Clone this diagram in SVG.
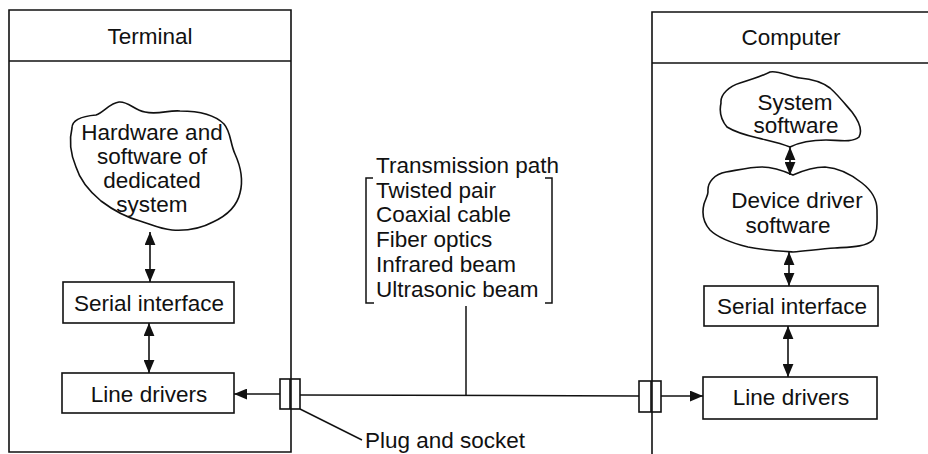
<svg xmlns="http://www.w3.org/2000/svg" width="928" height="454" viewBox="0 0 928 454">
<style>
  text { font-family: "Liberation Sans", Arial, sans-serif; font-size: 22.5px; fill: #111; }
  .c { text-anchor: middle; }
  .box { fill: none; stroke: #111; stroke-width: 1.6; }
  .ln { fill: none; stroke: #111; stroke-width: 1.5; }
  .arr { fill: none; stroke: #111; stroke-width: 1.6; marker-start: url(#ah); marker-end: url(#ah); }
  .arr1 { fill: none; stroke: #111; stroke-width: 1.6; marker-end: url(#ah); }
</style>
<defs>
  <marker id="ah" viewBox="0 0 12 10" refX="12" refY="5" markerWidth="13" markerHeight="11" orient="auto-start-reverse" markerUnits="userSpaceOnUse">
    <path d="M0,0 L12,5 L0,10 Z" fill="#111"/>
  </marker>
</defs>
<rect width="928" height="454" fill="#fff"/>

<g id="terminal">
  <path class="box" d="M9,452 L9,10 L291,10 L291,452 Z"/>
  <line class="box" x1="9" y1="61" x2="291" y2="61"/>
  <text class="c" x="150" y="44">Terminal</text>
</g>

<g id="computer">
  <path class="box" d="M652,454 L652,12 L928,12"/>
  <line class="box" x1="652" y1="63" x2="928" y2="63"/>
  <text class="c" x="791" y="45">Computer</text>
</g>

<g id="dedicated-system">
  <path class="box" d="M72,128 C72,119 84,116 96,115 C104,112 110,103 119,102 C128,101 134,110 145,112 C158,115 168,110 180,111 C196,111 214,114 224,124 C231,132 230,143 235,154 C240,165 244,178 240,193 C237,206 226,216 213,222 C200,229 186,231 172,230 C160,229 150,224 140,221 C125,217 113,210 101,201 C89,191 80,180 76,167 C71,155 69,140 72,128 Z"/>
  <text class="c" x="152" y="140">Hardware and</text>
  <text class="c" x="152" y="164">software of</text>
  <text class="c" x="152" y="188">dedicated</text>
  <text class="c" x="152" y="212">system</text>
</g>

<g id="serial-left">
  <rect class="box" x="63" y="282" width="171" height="41"/>
  <text class="c" x="149" y="311">Serial interface</text>
</g>

<g id="line-drivers-left">
  <rect class="box" x="62" y="373" width="172" height="40"/>
  <text class="c" x="149" y="402">Line drivers</text>
</g>

<g id="system-software">
  <path class="box" d="M721,103 C720,94 730,86 740,83 C750,80 760,77 770,72 C778,70 790,77 800,78 C812,79 822,82 830,88 C838,95 845,104 852,112 C858,120 863,130 859,137 C852,143 838,140 826,140 C814,140 802,141 790,147 C780,143 770,141 758,138 C745,135 735,132 727,127 C721,120 719,112 721,103 Z"/>
  <text class="c" x="795" y="110">System</text>
  <text class="c" x="796" y="133">software</text>
</g>

<g id="device-driver">
  <path class="box" d="M708,192 C707,182 715,174 726,172 C738,170 750,167 762,167 C774,167 784,171 793,175 C802,171 813,167 825,167 C840,168 852,175 862,183 C871,190 877,198 877,210 C877,222 878,232 873,240 C866,247 850,247 835,248 C820,249 806,251 793,252 C778,251 762,250 748,247 C732,243 718,238 710,230 C703,222 702,212 704,204 C706,198 708,195 708,192 Z"/>
  <text class="c" x="797" y="208">Device driver</text>
  <text class="c" x="788" y="233">software</text>
</g>

<g id="serial-right">
  <rect class="box" x="704" y="286" width="174" height="40"/>
  <text class="c" x="792" y="314">Serial interface</text>
</g>

<g id="line-drivers-right">
  <rect class="box" x="703" y="377" width="174" height="42"/>
  <text class="c" x="791" y="405">Line drivers</text>
</g>

<g id="transmission-path">
  <text x="376" y="173">Transmission path</text>
  <text x="376" y="197.5">Twisted pair</text>
  <text x="376" y="222">Coaxial cable</text>
  <text x="376" y="247">Fiber optics</text>
  <text x="376" y="272">Infrared beam</text>
  <text x="376" y="297">Ultrasonic beam</text>
  <path class="ln" d="M373,178 L366,178 L366,303 L374,303"/>
  <path class="ln" d="M545,178 L552,178 L552,303 L545,303"/>
</g>

<g id="plug-left">
  <rect class="box" x="280" y="379" width="20" height="30" fill="#fff"/>
  <line class="box" x1="290" y1="379" x2="290" y2="409"/>
</g>

<g id="plug-right">
  <rect class="box" x="639" y="381" width="22" height="31" fill="#fff"/>
  <line class="box" x1="651" y1="381" x2="651" y2="412"/>
</g>

<g id="plug-label">
  <text x="365" y="448">Plug and socket</text>
</g>

<g id="connectors">
  <line class="arr" x1="150" y1="232" x2="150" y2="282"/>
  <line class="arr" x1="149" y1="323" x2="149" y2="373"/>
  <line class="arr" x1="790" y1="147" x2="790" y2="175"/>
  <line class="arr" x1="789" y1="252" x2="789" y2="286"/>
  <line class="arr" x1="788" y1="326" x2="788" y2="377"/>
  <line class="arr1" x1="280" y1="394" x2="234" y2="394"/>
  <line class="arr1" x1="661" y1="396" x2="703" y2="396"/>
  <line class="ln" x1="300" y1="395" x2="639" y2="396"/>
  <line class="ln" x1="466" y1="306" x2="466" y2="395"/>
  <line class="ln" x1="300" y1="409" x2="362" y2="440"/>
</g>
</svg>
